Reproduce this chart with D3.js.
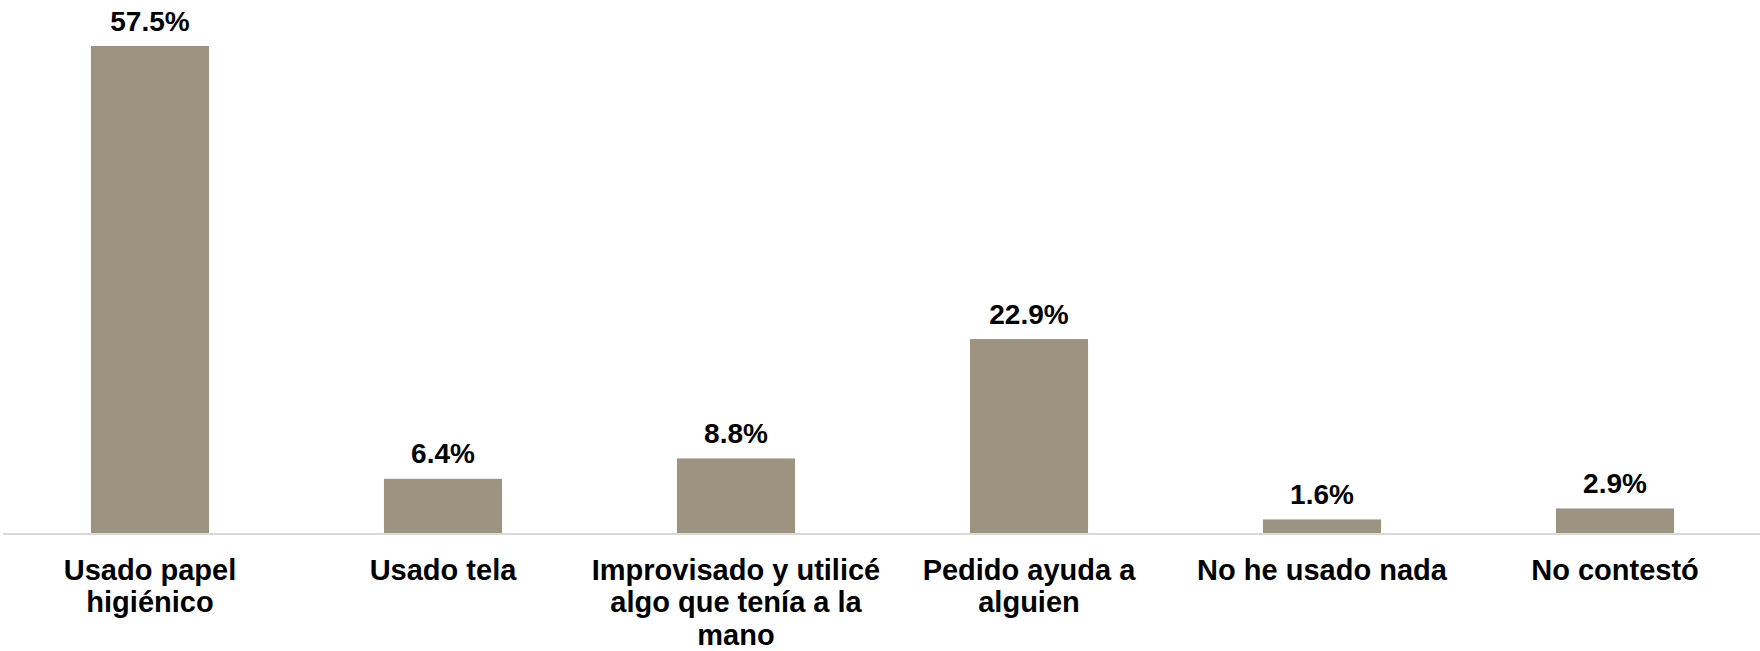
<!DOCTYPE html>
<html>
<head>
<meta charset="utf-8">
<script src="https://cdn.jsdelivr.net/npm/d3@7"></script>
<style>
  body { margin: 0; background: #fff; }
  svg { display: block; }
</style>
</head>
<body>
<div id="viz-container"></div>
<script>
// chart data
let categories = [
  "Usado papel\nhigiénico",
  "Usado tela",
  "Improvisado y utilicé\nalgo que tenía a la\nmano",
  "Pedido ayuda a\nalguien",
  "No he usado nada",
  "No contestó"
];
let values = [57.5, 6.4, 8.8, 22.9, 1.6, 2.9];

let width = 1760;
let height = 651;
let baseline = 533;
let barColor = "#9c9380";

let data = categories.map((c, i) => ({ category: c, value: values[i] }));

let viz = d3.select("#viz-container")
  .append("svg")
    .attr("width", width)
    .attr("height", height)
;

let x = d3.scaleBand()
  .domain(categories)
  .range([3.5, 1761.5])
  .paddingInner(0.597)
  .paddingOuter(0.2985)
;

let y = d3.scaleLinear()
  .domain([0, 57.5])
  .range([baseline, 46])
;

// bars
viz.selectAll(".bar").data(data)
  .enter()
  .append("rect")
    .attr("class", "bar")
    .attr("x", d => x(d.category))
    .attr("width", x.bandwidth())
    .attr("y", d => y(d.value))
    .attr("height", d => baseline - y(d.value))
    .attr("fill", barColor)
;

// axis line
viz.append("line")
  .attr("x1", 3)
  .attr("x2", width)
  .attr("y1", baseline + 1)
  .attr("y2", baseline + 1)
  .attr("stroke", "#d9d9d9")
  .attr("stroke-width", 2)
;

// value labels
viz.selectAll(".value").data(data)
  .enter()
  .append("text")
    .attr("class", "value")
    .attr("x", d => x(d.category) + x.bandwidth() / 2)
    .attr("y", d => y(d.value) - 15.5)
    .attr("text-anchor", "middle")
    .attr("font-family", "'Liberation Sans', Arial, sans-serif")
    .attr("font-weight", "bold")
    .attr("font-size", 28)
    .attr("fill", "#000")
    .text(d => d.value.toFixed(1) + "%")
;

// category labels
let labels = viz.selectAll(".category").data(data)
  .enter()
  .append("text")
    .attr("class", "category")
    .attr("text-anchor", "middle")
    .attr("font-family", "'Liberation Sans', Arial, sans-serif")
    .attr("font-weight", "bold")
    .attr("font-size", 29)
    .attr("fill", "#000")
;
labels.each(function (d) {
  let cx = x(d.category) + x.bandwidth() / 2;
  d3.select(this).selectAll("tspan")
    .data(d.category.split("\n"))
    .enter()
    .append("tspan")
      .attr("x", cx)
      .attr("y", (line, i) => 579.5 + i * 32.5)
      .text(line => line);
});
</script>
</body>
</html>
